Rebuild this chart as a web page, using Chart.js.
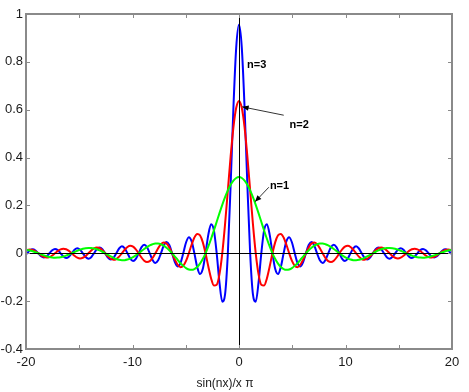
<!DOCTYPE html>
<html>
<head>
<meta charset="utf-8">
<script src="https://cdn.jsdelivr.net/npm/chart.js@4.4.1/dist/chart.umd.min.js"></script>
<style>
  html, body { margin: 0; padding: 0; background: #fff; }
  #chart { display: block; }
</style>
</head>
<body>
<canvas id="chart" width="469" height="392"></canvas>
<script>
'use strict';

// ── Data: x samples (every pi/12) and sin(nx)/(x*pi) read for n = 1, 2, 3 ──
const xValues = [
  -20.159, -19.897, -19.635, -19.373, -19.111,
  -18.850, -18.588, -18.326, -18.064, -17.802, -17.541, -17.279, -17.017, -16.755, -16.493, -16.232, -15.970,
  -15.708, -15.446, -15.184, -14.923, -14.661, -14.399, -14.137, -13.875, -13.614, -13.352, -13.090, -12.828,
  -12.566, -12.305, -12.043, -11.781, -11.519, -11.257, -10.996, -10.734, -10.472, -10.210, -9.948, -9.687,
  -9.425, -9.163, -8.901, -8.639, -8.378, -8.116, -7.854, -7.592, -7.330, -7.069, -6.807, -6.545,
  -6.283, -6.021, -5.760, -5.498, -5.236, -4.974, -4.712, -4.451, -4.189, -3.927, -3.665, -3.403,
  -3.142, -2.880, -2.618, -2.356, -2.094, -1.833, -1.571, -1.309, -1.047, -0.785, -0.524, -0.262,
  0,
  0.262, 0.524, 0.785, 1.047, 1.309, 1.571, 1.833, 2.094, 2.356, 2.618, 2.880, 3.142,
  3.403, 3.665, 3.927, 4.189, 4.451, 4.712, 4.974, 5.236, 5.498, 5.760, 6.021, 6.283,
  6.545, 6.807, 7.069, 7.330, 7.592, 7.854, 8.116, 8.378, 8.639, 8.901, 9.163, 9.425,
  9.687, 9.948, 10.210, 10.472, 10.734, 10.996, 11.257, 11.519, 11.781, 12.043, 12.305, 12.566,
  12.828, 13.090, 13.352, 13.614, 13.875, 14.137, 14.399, 14.661, 14.923, 15.184, 15.446, 15.708,
  15.970, 16.232, 16.493, 16.755, 17.017, 17.279, 17.541, 17.802, 18.064, 18.326, 18.588, 18.850,
  19.111, 19.373, 19.635, 19.897, 20.159,
];

const n1Values = [
  0.0153, 0.0139, 0.0115, 0.0082, 0.0043,
  0, -0.0044, -0.0087, -0.0125, -0.0155, -0.0175, -0.0184, -0.0181, -0.0165, -0.0136, -0.0098, -0.0052,
  0, 0.0053, 0.0105, 0.0151, 0.0188, 0.0214, 0.0225, 0.0222, 0.0202, 0.0169, 0.0122, 0.0064,
  0, -0.0067, -0.0132, -0.0191, -0.0239, -0.0273, -0.0289, -0.0286, -0.0263, -0.0220, -0.0160, -0.0085,
  0, 0.0090, 0.0179, 0.0261, 0.0329, 0.0379, 0.0405, 0.0405, 0.0376, 0.0318, 0.0234, 0.0126,
  0, -0.0137, -0.0276, -0.0409, -0.0526, -0.0618, -0.0675, -0.0691, -0.0658, -0.0573, -0.0434, -0.0242,
  0, 0.0286, 0.0608, 0.0955, 0.1316, 0.1678, 0.2026, 0.2349, 0.2632, 0.2866, 0.3040, 0.3147,
  0.3183,
  0.3147, 0.3040, 0.2866, 0.2632, 0.2349, 0.2026, 0.1678, 0.1316, 0.0955, 0.0608, 0.0286, 0,
  -0.0242, -0.0434, -0.0573, -0.0658, -0.0691, -0.0675, -0.0618, -0.0526, -0.0409, -0.0276, -0.0137, 0,
  0.0126, 0.0234, 0.0318, 0.0376, 0.0405, 0.0405, 0.0379, 0.0329, 0.0261, 0.0179, 0.0090, 0,
  -0.0085, -0.0160, -0.0220, -0.0263, -0.0286, -0.0289, -0.0273, -0.0239, -0.0191, -0.0132, -0.0067, 0,
  0.0064, 0.0122, 0.0169, 0.0202, 0.0222, 0.0225, 0.0214, 0.0188, 0.0151, 0.0105, 0.0053, 0,
  -0.0052, -0.0098, -0.0136, -0.0165, -0.0181, -0.0184, -0.0175, -0.0155, -0.0125, -0.0087, -0.0044, 0,
  0.0043, 0.0082, 0.0115, 0.0139, 0.0153,
];

const n2Values = [
  0.0079, 0.0139, 0.0162, 0.0142, 0.0083,
  0, -0.0086, -0.0150, -0.0176, -0.0155, -0.0091, 0, 0.0094, 0.0165, 0.0193, 0.0170, 0.0100,
  0, -0.0103, -0.0182, -0.0213, -0.0188, -0.0111, 0, 0.0115, 0.0202, 0.0238, 0.0211, 0.0124,
  0, -0.0129, -0.0229, -0.0270, -0.0239, -0.0141, 0, 0.0148, 0.0263, 0.0312, 0.0277, 0.0164,
  0, -0.0174, -0.0310, -0.0368, -0.0329, -0.0196, 0, 0.0210, 0.0376, 0.0450, 0.0405, 0.0243,
  0, -0.0264, -0.0479, -0.0579, -0.0526, -0.0320, 0, 0.0358, 0.0658, 0.0811, 0.0752, 0.0468,
  0, -0.0553, -0.1053, -0.1351, -0.1316, -0.0868, 0, 0.1216, 0.2632, 0.4053, 0.5265, 0.6079,
  0.6366,
  0.6079, 0.5265, 0.4053, 0.2632, 0.1216, 0, -0.0868, -0.1316, -0.1351, -0.1053, -0.0553, 0,
  0.0468, 0.0752, 0.0811, 0.0658, 0.0358, 0, -0.0320, -0.0526, -0.0579, -0.0479, -0.0264, 0,
  0.0243, 0.0405, 0.0450, 0.0376, 0.0210, 0, -0.0196, -0.0329, -0.0368, -0.0310, -0.0174, 0,
  0.0164, 0.0277, 0.0312, 0.0263, 0.0148, 0, -0.0141, -0.0239, -0.0270, -0.0229, -0.0129, 0,
  0.0124, 0.0211, 0.0238, 0.0202, 0.0115, 0, -0.0111, -0.0188, -0.0213, -0.0182, -0.0103, 0,
  0.0100, 0.0170, 0.0193, 0.0165, 0.0094, 0, -0.0091, -0.0155, -0.0176, -0.0150, -0.0086, 0,
  0.0083, 0.0142, 0.0162, 0.0139, 0.0079,
];

const n3Values = [
  -0.0112, 0, 0.0115, 0.0164, 0.0118,
  0, -0.0121, -0.0174, -0.0125, 0, 0.0128, 0.0184, 0.0132,
  0, -0.0136, -0.0196, -0.0141, 0, 0.0146, 0.0210, 0.0151,
  0, -0.0156, -0.0225, -0.0162, 0, 0.0169, 0.0243, 0.0175,
  0, -0.0183, -0.0264, -0.0191, 0, 0.0200, 0.0289, 0.0210,
  0, -0.0220, -0.0320, -0.0232, 0, 0.0246, 0.0358, 0.0261,
  0, -0.0277, -0.0405, -0.0296, 0, 0.0318, 0.0468, 0.0344,
  0, -0.0374, -0.0553, -0.0409, 0, 0.0452, 0.0675, 0.0506,
  0, -0.0573, -0.0868, -0.0661, 0, 0.0782, 0.1216, 0.0955,
  0, -0.1228, -0.2026, -0.1719, 0, 0.2866, 0.6079, 0.8597,
  0.9549,
  0.8597, 0.6079, 0.2866, 0, -0.1719, -0.2026, -0.1228, 0,
  0.0955, 0.1216, 0.0782, 0, -0.0661, -0.0868, -0.0573, 0,
  0.0506, 0.0675, 0.0452, 0, -0.0409, -0.0553, -0.0374, 0,
  0.0344, 0.0468, 0.0318, 0, -0.0296, -0.0405, -0.0277, 0,
  0.0261, 0.0358, 0.0246, 0, -0.0232, -0.0320, -0.0220, 0,
  0.0210, 0.0289, 0.0200, 0, -0.0191, -0.0264, -0.0183, 0,
  0.0175, 0.0243, 0.0169, 0, -0.0162, -0.0225, -0.0156, 0,
  0.0151, 0.0210, 0.0146, 0, -0.0141, -0.0196, -0.0136, 0,
  0.0132, 0.0184, 0.0128, 0, -0.0125, -0.0174, -0.0121, 0,
  0.0118, 0.0164, 0.0115, 0, -0.0112,
];

const xTickLabels = [-20, -10, 0, 10, 20];
const xMinorTicks = [-15, -5, 5, 15];
const yTickLabels = [1, 0.8, 0.6, 0.4, 0.2, 0, -0.2, -0.4];

// ── Style ──
const FRAME_COLOR = '#8a8a8a';
const TEXT_COLOR  = '#1a1a1a';
const FONT_FAMILY = '"Liberation Sans", Arial, Helvetica, sans-serif';

const toPoints = ys => xValues.map((x, i) => ({ x, y: ys[i] }));

// Box, inward ticks, zero lines, annotations, x title
const matlabAxes = {
  id: 'matlabAxes',
  afterDatasetsDraw(chart) {
    const { ctx, chartArea: a, scales: { x, y } } = chart;
    ctx.save();

    // zero lines
    ctx.strokeStyle = '#000';
    ctx.lineWidth = 1;
    const y0 = Math.round(y.getPixelForValue(0)) + 0.5;
    const x0 = Math.round(x.getPixelForValue(0)) + 0.5;
    ctx.beginPath();
    ctx.moveTo(a.left, y0); ctx.lineTo(a.right, y0);
    ctx.moveTo(x0, a.top);  ctx.lineTo(x0, a.bottom);
    ctx.stroke();

    // frame
    ctx.strokeStyle = FRAME_COLOR;
    ctx.lineWidth = 2;
    ctx.strokeRect(a.left, a.top, a.right - a.left, a.bottom - a.top);

    // inward ticks
    const TL = 4;
    ctx.lineWidth = 1;
    ctx.beginPath();
    [...xTickLabels, ...xMinorTicks].forEach(v => {
      const px = Math.round(x.getPixelForValue(v)) + 0.5;
      ctx.moveTo(px, a.top);    ctx.lineTo(px, a.top + TL);
      ctx.moveTo(px, a.bottom); ctx.lineTo(px, a.bottom - TL);
    });
    yTickLabels.forEach(v => {
      const py = Math.round(y.getPixelForValue(v)) + 0.5;
      ctx.moveTo(a.left, py);  ctx.lineTo(a.left + TL, py);
      ctx.moveTo(a.right, py); ctx.lineTo(a.right - TL, py);
    });
    ctx.stroke();

    // annotations
    const P = (vx, vy) => [x.getPixelForValue(vx), y.getPixelForValue(vy)];
    const arrow = (from, to) => {
      const [x1, y1] = P(...from);
      const [x2, y2] = P(...to);
      const ang = Math.atan2(y2 - y1, x2 - x1);
      ctx.strokeStyle = '#333';
      ctx.lineWidth = 1;
      ctx.beginPath();
      ctx.moveTo(x1, y1); ctx.lineTo(x2, y2);
      ctx.stroke();
      ctx.fillStyle = '#000';
      ctx.beginPath();
      ctx.moveTo(x2, y2);
      ctx.lineTo(x2 - 7 * Math.cos(ang - 0.4), y2 - 7 * Math.sin(ang - 0.4));
      ctx.lineTo(x2 - 7 * Math.cos(ang + 0.4), y2 - 7 * Math.sin(ang + 0.4));
      ctx.closePath();
      ctx.fill();
    };
    arrow([4.2, 0.577], [0.3, 0.612]);
    arrow([2.8, 0.276], [1.5, 0.215]);

    ctx.fillStyle = '#000';
    ctx.font = 'bold 11px "Liberation Sans Narrow", "Liberation Sans", Arial, sans-serif';
    ctx.textAlign = 'left';
    ctx.textBaseline = 'middle';
    ctx.fillText('n=3', ...P(0.75, 0.787));
    ctx.fillText('n=2', ...P(4.75, 0.535));
    ctx.fillText('n=1', ...P(2.9, 0.282));

    // x axis title (sits a little left of centre in the original)
    ctx.font = '12px ' + FONT_FAMILY;
    ctx.fillStyle = TEXT_COLOR;
    ctx.textAlign = 'center';
    ctx.fillText('sin(nx)/x π', (a.left + a.right) / 2 - 14, 384);

    ctx.restore();
  },
};

const lineDs = (label, ys, color) => ({
  label,
  data: toPoints(ys),
  borderColor: color,
  borderWidth: 2,
  pointRadius: 0,
  fill: false,
  cubicInterpolationMode: 'monotone',
});

new Chart(document.getElementById('chart'), {
  type: 'line',
  data: {
    datasets: [
      lineDs('n=1', n1Values, '#00ff00'),
      lineDs('n=2', n2Values, '#ff0000'),
      lineDs('n=3', n3Values, '#0000ff'),
    ],
  },
  options: {
    responsive: false,
    animation: false,
    layout: { padding: { left: 0, right: 17, top: 14, bottom: 0 } },
    plugins: {
      legend: { display: false },
      tooltip: { enabled: false },
    },
    scales: {
      x: {
        type: 'linear',
        min: -20,
        max: 20,
        grid: { display: false, drawTicks: false },
        border: { display: false },
        afterFit: s => { s.height = 43; },
        afterBuildTicks: s => { s.ticks = xTickLabels.map(v => ({ value: v })); },
        ticks: {
          color: TEXT_COLOR,
          font: { family: FONT_FAMILY, size: 13 },
          padding: 6,
          maxRotation: 0,
          autoSkip: false,
          callback: v => String(v),
        },
      },
      y: {
        type: 'linear',
        min: -0.4,
        max: 1,
        grid: { display: false, drawTicks: false },
        border: { display: false },
        afterFit: s => { s.width = 26; },
        afterBuildTicks: s => { s.ticks = yTickLabels.map(v => ({ value: v })); },
        ticks: {
          color: TEXT_COLOR,
          font: { family: FONT_FAMILY, size: 13 },
          padding: 3,
          autoSkip: false,
          callback: v => String(Number(v.toFixed(1))),
        },
      },
    },
  },
  plugins: [matlabAxes],
});
</script>
</body>
</html>
